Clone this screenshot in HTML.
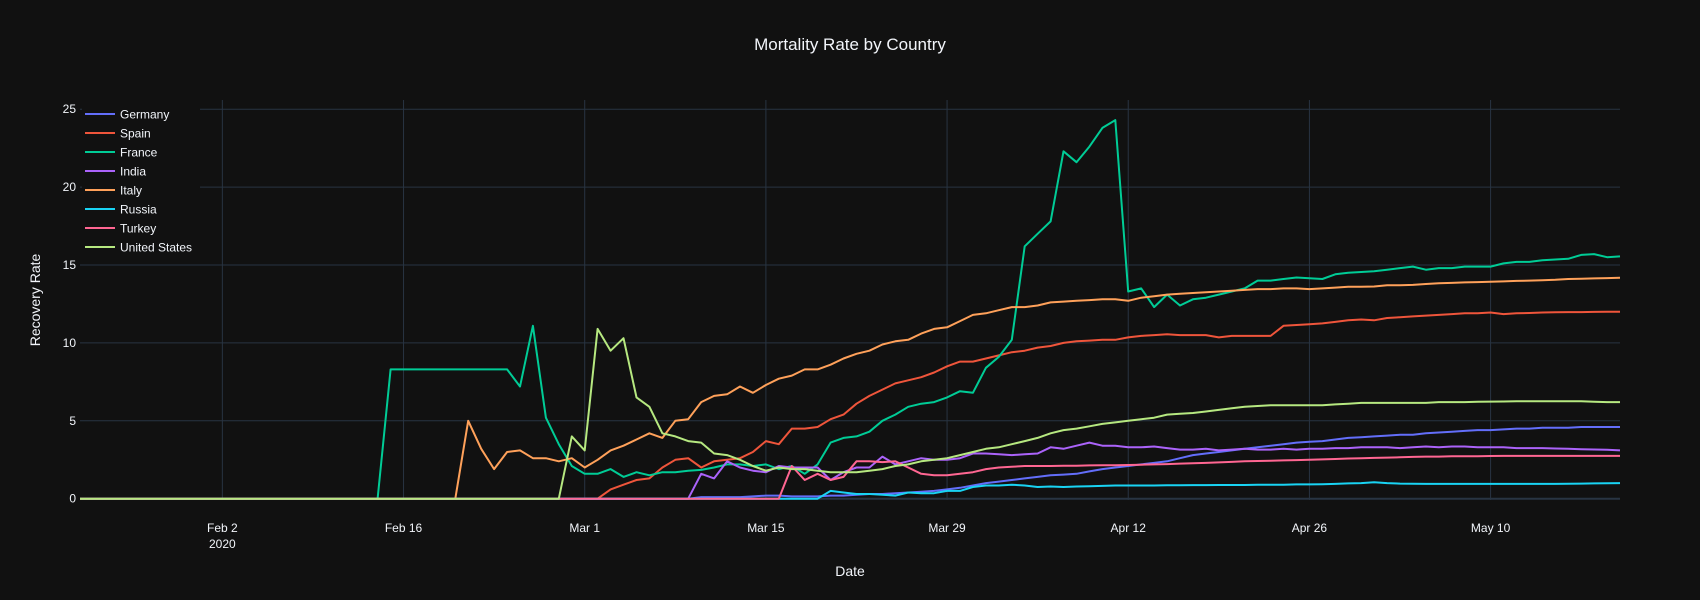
<!DOCTYPE html>
<html><head><meta charset="utf-8"><style>
html,body{margin:0;padding:0;background:#111111;}
svg{display:block;font-family:"Liberation Sans","DejaVu Sans",sans-serif;}
</style></head><body>
<svg id="chart" width="1700" height="600" viewBox="0 0 1700 600">
<rect width="1700" height="600" fill="#111111"/>
<g id="grid"></g>
<g id="series"></g>
<g id="axes"></g>
<g id="legend"></g>
<text x="850" y="50" text-anchor="middle" fill="#f2f5fa" font-size="17">Mortality Rate by Country</text>
<text x="850" y="576" text-anchor="middle" fill="#f2f5fa" font-size="14">Date</text>
<text x="40" y="300" text-anchor="middle" fill="#f2f5fa" font-size="14" transform="rotate(-90 40 300)">Recovery Rate</text>
</svg>
<script>
const startDate = "2020-01-22";
const xTickLabels = ["Feb 2","Feb 16","Mar 1","Mar 15","Mar 29","Apr 12","Apr 26","May 10"];
const xTickIdx = [11,25,39,53,67,81,95,109];
const yTicks = [0,5,10,15,20,25];
const seriesNames = ["Germany","Spain","France","India","Italy","Russia","Turkey","United States"];
const seriesColors = ["#636efa","#EF553B","#00cc96","#ab63fa","#FFA15A","#19d3f3","#FF6692","#B6E880"];
const germany = [0,0,0,0,0,0,0,0,0,0,0,0,0,0,0,0,0,0,0,0,0,0,0,0,0,0,0,0,0,0,0,0,0,0,0,0,0,0,0,0,0,0,0,0,0,0,0,0,0.1,0.1,0.1,0.1,0.15,0.2,0.2,0.15,0.15,0.15,0.2,0.2,0.25,0.3,0.3,0.35,0.4,0.45,0.5,0.6,0.7,0.85,1.0,1.1,1.2,1.3,1.4,1.5,1.55,1.6,1.75,1.9,2.0,2.1,2.2,2.3,2.4,2.6,2.8,2.9,3.0,3.1,3.2,3.3,3.4,3.5,3.6,3.65,3.7,3.8,3.9,3.95,4.0,4.05,4.1,4.1,4.2,4.25,4.3,4.35,4.4,4.4,4.45,4.5,4.5,4.55,4.55,4.55,4.6,4.6,4.6,4.6];
const spain = [0,0,0,0,0,0,0,0,0,0,0,0,0,0,0,0,0,0,0,0,0,0,0,0,0,0,0,0,0,0,0,0,0,0,0,0,0,0,0,0,0,0.6,0.9,1.2,1.3,2.0,2.5,2.6,2.0,2.4,2.5,2.6,3.0,3.7,3.5,4.5,4.5,4.6,5.1,5.4,6.1,6.6,7.0,7.4,7.6,7.8,8.1,8.5,8.8,8.8,9.0,9.2,9.4,9.5,9.7,9.8,10.0,10.1,10.15,10.2,10.2,10.35,10.45,10.5,10.55,10.5,10.5,10.5,10.35,10.45,10.45,10.45,10.45,11.1,11.15,11.2,11.25,11.35,11.45,11.5,11.45,11.6,11.65,11.7,11.75,11.8,11.85,11.9,11.9,11.95,11.85,11.9,11.92,11.95,11.97,11.98,11.98,11.99,12.0,12.0];
const france = [0,0,0,0,0,0,0,0,0,0,0,0,0,0,0,0,0,0,0,0,0,0,0,0,8.3,8.3,8.3,8.3,8.3,8.3,8.3,8.3,8.3,8.3,7.2,11.1,5.2,3.5,2.1,1.6,1.6,1.9,1.4,1.7,1.5,1.7,1.7,1.8,1.85,2.0,2.2,2.2,2.1,2.2,1.9,2.1,1.6,2.2,3.6,3.9,4.0,4.3,5.0,5.4,5.9,6.1,6.2,6.5,6.9,6.8,8.4,9.1,10.2,16.2,17.0,17.8,22.3,21.6,22.6,23.8,24.3,13.3,13.5,12.3,13.1,12.4,12.8,12.9,13.1,13.3,13.5,14.0,14.0,14.1,14.2,14.15,14.1,14.4,14.5,14.55,14.6,14.7,14.8,14.9,14.7,14.8,14.8,14.9,14.9,14.9,15.1,15.2,15.2,15.3,15.35,15.4,15.65,15.7,15.5,15.55];
const india = [0,0,0,0,0,0,0,0,0,0,0,0,0,0,0,0,0,0,0,0,0,0,0,0,0,0,0,0,0,0,0,0,0,0,0,0,0,0,0,0,0,0,0,0,0,0,0,0,1.6,1.3,2.4,2.0,1.8,1.7,2.1,2.0,2.0,2.0,1.2,1.7,2.0,2.0,2.7,2.2,2.4,2.6,2.5,2.5,2.6,2.9,2.9,2.85,2.8,2.85,2.9,3.3,3.2,3.4,3.6,3.4,3.4,3.3,3.3,3.35,3.25,3.15,3.15,3.2,3.1,3.15,3.2,3.15,3.15,3.2,3.15,3.2,3.2,3.25,3.25,3.3,3.3,3.3,3.25,3.3,3.35,3.3,3.35,3.35,3.3,3.3,3.3,3.25,3.25,3.25,3.22,3.2,3.18,3.16,3.14,3.1];
const italy = [0,0,0,0,0,0,0,0,0,0,0,0,0,0,0,0,0,0,0,0,0,0,0,0,0,0,0,0,0,0,5.0,3.2,1.9,3.0,3.1,2.6,2.6,2.4,2.6,2.0,2.5,3.1,3.4,3.8,4.2,3.9,5.0,5.1,6.2,6.6,6.7,7.2,6.8,7.3,7.7,7.9,8.3,8.3,8.6,9.0,9.3,9.5,9.9,10.1,10.2,10.6,10.9,11.0,11.4,11.8,11.9,12.1,12.3,12.3,12.4,12.6,12.65,12.7,12.75,12.8,12.8,12.7,12.9,13.0,13.1,13.15,13.2,13.25,13.3,13.35,13.4,13.45,13.45,13.5,13.5,13.45,13.5,13.55,13.6,13.6,13.62,13.7,13.7,13.72,13.78,13.83,13.85,13.88,13.9,13.92,13.95,13.98,14.0,14.02,14.05,14.1,14.12,14.14,14.16,14.18,14.2];
const russia = [0,0,0,0,0,0,0,0,0,0,0,0,0,0,0,0,0,0,0,0,0,0,0,0,0,0,0,0,0,0,0,0,0,0,0,0,0,0,0,0,0,0,0,0,0,0,0,0,0,0,0,0,0,0,0,0,0,0,0.5,0.4,0.3,0.3,0.25,0.2,0.4,0.35,0.35,0.5,0.5,0.75,0.85,0.85,0.9,0.85,0.75,0.78,0.75,0.78,0.8,0.82,0.85,0.85,0.85,0.85,0.86,0.86,0.87,0.87,0.88,0.88,0.88,0.9,0.9,0.9,0.92,0.92,0.93,0.95,0.98,1.0,1.05,1.0,0.97,0.96,0.95,0.95,0.95,0.95,0.95,0.95,0.95,0.95,0.95,0.95,0.95,0.96,0.97,0.98,0.99,1.0];
const turkey = [0,0,0,0,0,0,0,0,0,0,0,0,0,0,0,0,0,0,0,0,0,0,0,0,0,0,0,0,0,0,0,0,0,0,0,0,0,0,0,0,0,0,0,0,0,0,0,0,0,0,0,0,0,0,0,2.1,1.2,1.6,1.2,1.4,2.4,2.4,2.35,2.4,2.0,1.6,1.5,1.5,1.6,1.7,1.9,2.0,2.05,2.1,2.1,2.1,2.12,2.12,2.14,2.15,2.15,2.16,2.18,2.2,2.22,2.25,2.28,2.3,2.33,2.36,2.4,2.42,2.44,2.46,2.48,2.5,2.52,2.55,2.58,2.6,2.62,2.64,2.66,2.68,2.7,2.7,2.72,2.72,2.73,2.74,2.75,2.75,2.75,2.75,2.75,2.75,2.75,2.75,2.75,2.75];
const unitedStates = [0,0,0,0,0,0,0,0,0,0,0,0,0,0,0,0,0,0,0,0,0,0,0,0,0,0,0,0,0,0,0,0,0,0,0,0,0,0,4.0,3.1,10.9,9.5,10.3,6.5,5.9,4.2,4.0,3.7,3.6,2.9,2.8,2.5,2.1,1.8,2.0,1.9,1.9,1.8,1.7,1.7,1.7,1.8,1.9,2.1,2.2,2.4,2.5,2.6,2.8,3.0,3.2,3.3,3.5,3.7,3.9,4.2,4.4,4.5,4.65,4.8,4.9,5.0,5.1,5.2,5.4,5.45,5.5,5.6,5.7,5.8,5.9,5.95,6.0,6.0,6.0,6.0,6.0,6.05,6.1,6.15,6.15,6.15,6.15,6.15,6.15,6.2,6.2,6.2,6.22,6.23,6.24,6.25,6.25,6.25,6.25,6.25,6.25,6.22,6.2,6.2];
const seriesData = [germany,spain,france,india,italy,russia,turkey,unitedStates];

const NS = "http://www.w3.org/2000/svg";
const X0 = 80, X1 = 1620, DAYS = 119;
const Y0 = 498.7, PXU = 15.58;
function xScale(i){ return X0 + i*(X1-X0)/DAYS; }
function yScale(v){ return Y0 - v*PXU; }
function mk(tag, attrs, parent){ const e=document.createElementNS(NS,tag); for(const k in attrs) e.setAttribute(k,attrs[k]); parent.appendChild(e); return e; }

const grid = document.getElementById('grid');
const axes = document.getElementById('axes');
yTicks.forEach(v=>{
  const ln = mk('line',{x1:X0,x2:X1,y1:yScale(v),y2:yScale(v),stroke:'#283442','stroke-width':v===0?2:1},grid);
  
  
  const t = mk('text',{x:X0-4,y:yScale(v)+4,'text-anchor':'end',fill:'#f2f5fa','font-size':12},axes);
  t.textContent = String(v);
  
  
});
xTickIdx.forEach((d,k)=>{
  const x = xScale(d);
  const ln = mk('line',{x1:x,x2:x,y1:100,y2:500,stroke:'#283442','stroke-width':1},grid);
  
  
  const t = mk('text',{x:x,y:532,'text-anchor':'middle',fill:'#f2f5fa','font-size':12},axes);
  t.textContent = xTickLabels[k];
  
  
  if(k===0){
    const t2 = mk('text',{x:x,y:548,'text-anchor':'middle',fill:'#f2f5fa','font-size':12},axes);
    t2.textContent = "2020";
    
    
  }
});

const sg = document.getElementById('series');
seriesData.forEach((arr,s)=>{
  const pts = arr.slice(0, DAYS+1).map((v,i)=>xScale(i).toFixed(1)+','+yScale(v).toFixed(1)).join(' ');
  const pl = mk('polyline',{points:pts,fill:'none',stroke:seriesColors[s],'stroke-width':2,'stroke-linejoin':'round'},sg);
  
  
});

const lg = document.getElementById('legend');
const bg = mk('rect',{x:82,y:104,width:118,height:152,fill:'#111111'},lg);


seriesNames.forEach((n,s)=>{
  const y = 114 + s*19;
  const g = mk('g',{},lg);
  
  
  mk('line',{x1:85,x2:115,y1:y,y2:y,stroke:seriesColors[s],'stroke-width':2},g);
  const t = mk('text',{x:120,y:y+4.5,fill:'#f2f5fa','font-size':12},g);
  t.textContent = n;
});
</script>
</body></html>
